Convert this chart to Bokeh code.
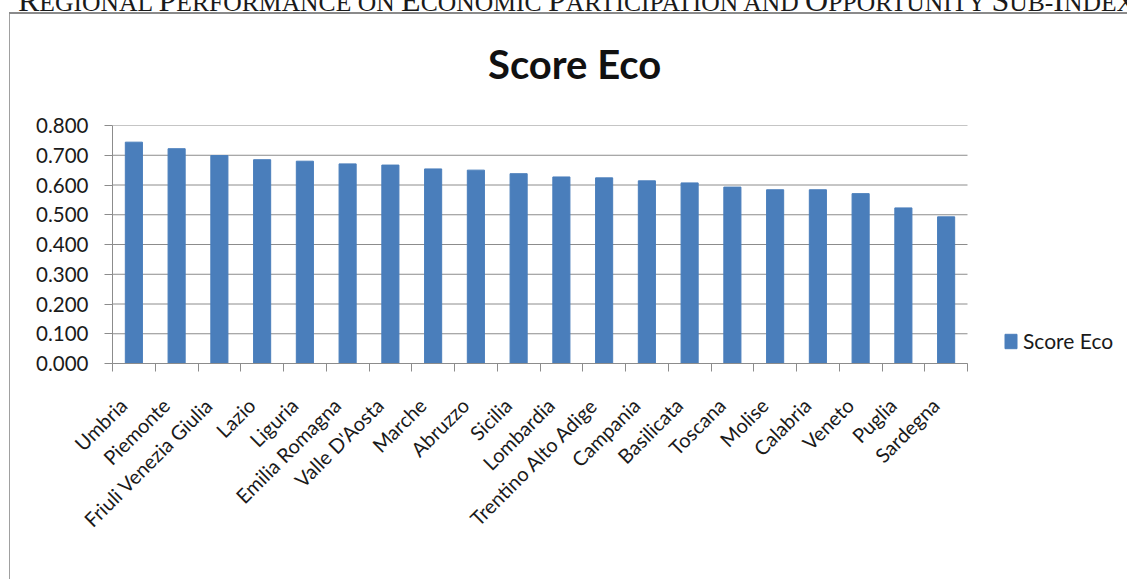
import math
from bokeh.plotting import figure
from bokeh.models import (Range1d, FixedTicker, NumeralTickFormatter, Div,
                          Legend, LegendItem)
from bokeh.embed import file_html
from bokeh.resources import INLINE

# ---------------- data ----------------
regions = ["Umbria", "Piemonte", "Friuli Venezia Giulia", "Lazio", "Liguria",
           "Emilia Romagna", "Valle D'Aosta", "Marche", "Abruzzo", "Sicilia",
           "Lombardia", "Trentino Alto Adige", "Campania", "Basilicata",
           "Toscana", "Molise", "Calabria", "Veneto", "Puglia", "Sardegna"]
score_eco = [0.744, 0.722, 0.699, 0.685, 0.680, 0.671, 0.667, 0.654, 0.650,
             0.638, 0.627, 0.624, 0.614, 0.607, 0.593, 0.584, 0.584, 0.571,
             0.523, 0.493]
y_ticks = [0.0, 0.1, 0.2, 0.3, 0.4, 0.5, 0.6, 0.7, 0.8]
series_name = "Score Eco"
chart_title = "Score Eco"
caption = "Regional Performance on Economic Participation and Opportunity Sub-Index"

# ---------------- style ----------------
BAR = "#4a7ebb"
GRID = "#8c8c8c"
TXT = "#1a1a1a"
FONT = "Lato"
n = len(regions)
centers = [i + 0.5 for i in range(n)]
boundaries = list(range(n + 1))
LABEL_SHIFT = 0.25     # rotated labels end slightly left of the bar centre
label_pos = [c - LABEL_SHIFT for c in centers]

# ---------------- caption (small caps) with rule below ----------------
spans = []
for ch in caption:
    size = 32 if ch.isupper() else 25.6
    spans.append(f'<span style="font-size:{size}px">{ch.upper()}</span>')
cap_html = ('<div style="position:relative; top:-15.5px; left:9px; '
            "font-family:'Liberation Serif'; color:#1a1a1a; "
            'white-space:nowrap; line-height:31px;">' + "".join(spans) + "</div>")
cap_div = Div(text=cap_html, width=1118, height=14, margin=(0, 0, 0, 9),
              styles={"border-bottom": "2px solid #8a8a8a",
                      "overflow-x": "clip", "overflow-y": "visible",
                      "box-sizing": "border-box"})

# ---------------- chart title band (inside the chart box) ----------------
title_html = ('<div style="position:relative; top:25.5px; left:478px; '
              "font-family:'Lato'; font-weight:bold; font-size:40px; "
              'line-height:48px; color:#111111; white-space:nowrap;">'
              + chart_title + "</div>")
title_div = Div(text=title_html, width=1118, height=86, margin=(0, 0, 0, 9),
                styles={"border-left": "1px solid #a0a0a0",
                        "box-sizing": "border-box", "overflow": "visible"})

# ---------------- figure ----------------
# plot area spans the categories (0..n) plus room on the right for the legend
CANVAS_W = 1117
FRAME_L = 102
CAT_R = 957            # canvas x where the last category ends
x_end = n * (CANVAS_W - FRAME_L) / (CAT_R - FRAME_L)

p = figure(width=CANVAS_W, height=479, output_backend="svg",
           toolbar_location=None,
           x_range=Range1d(0, x_end), y_range=Range1d(0, 0.8),
           min_border_left=FRAME_L, min_border_right=0,
           min_border_top=25, min_border_bottom=216,
           background_fill_color="white", border_fill_color="white")
p.styles = {"border-left": "1px solid #a0a0a0", "margin-left": "9px"}
p.outline_line_color = None

# horizontal grid lines limited to the category span
p.segment(x0=[0] * len(y_ticks), x1=[n] * len(y_ticks), y0=y_ticks,
          y1=y_ticks, line_color=GRID, line_width=1, level="underlay")

r = p.vbar(x=centers, top=score_eco, width=0.4, fill_color=BAR,
           line_color=BAR, line_width=1)

ya = p.yaxis[0]
ya.ticker = FixedTicker(ticks=y_ticks)
ya.formatter = NumeralTickFormatter(format="0.000")
ya.axis_line_color = GRID
ya.major_tick_line_color = GRID
ya.major_tick_out = 8
ya.major_tick_in = 0
ya.minor_tick_line_color = None
ya.major_label_standoff = 16
ya.major_label_text_font = FONT
ya.major_label_text_font_size = "20.5px"
ya.major_label_text_color = TXT

xa = p.xaxis[0]
xa.bounds = (0, n)
xa.ticker = FixedTicker(ticks=label_pos, minor_ticks=boundaries)
xa.major_label_overrides = {c: name for c, name in zip(label_pos, regions)}
xa.axis_line_color = GRID
xa.major_tick_line_color = None
xa.major_tick_out = 0
xa.major_tick_in = 0
xa.minor_tick_line_color = GRID
xa.minor_tick_out = 8
xa.minor_tick_in = 0
xa.major_label_orientation = math.pi / 4
xa.major_label_standoff = 30
xa.major_label_text_font = FONT
xa.major_label_text_font_size = "20px"
xa.major_label_text_color = TXT

p.xgrid.visible = False
p.ygrid.visible = False

legend = Legend(items=[LegendItem(label=series_name, renderers=[r])],
                location=(891, 10), padding=0, margin=0, spacing=0,
                glyph_width=15, glyph_height=18, label_standoff=5,
                label_text_font=FONT, label_text_font_size="21px",
                label_text_color=TXT, border_line_color=None,
                background_fill_alpha=0)
p.add_layout(legend, "center")

open("out.html", "w").write(file_html([cap_div, title_div, p], INLINE))
